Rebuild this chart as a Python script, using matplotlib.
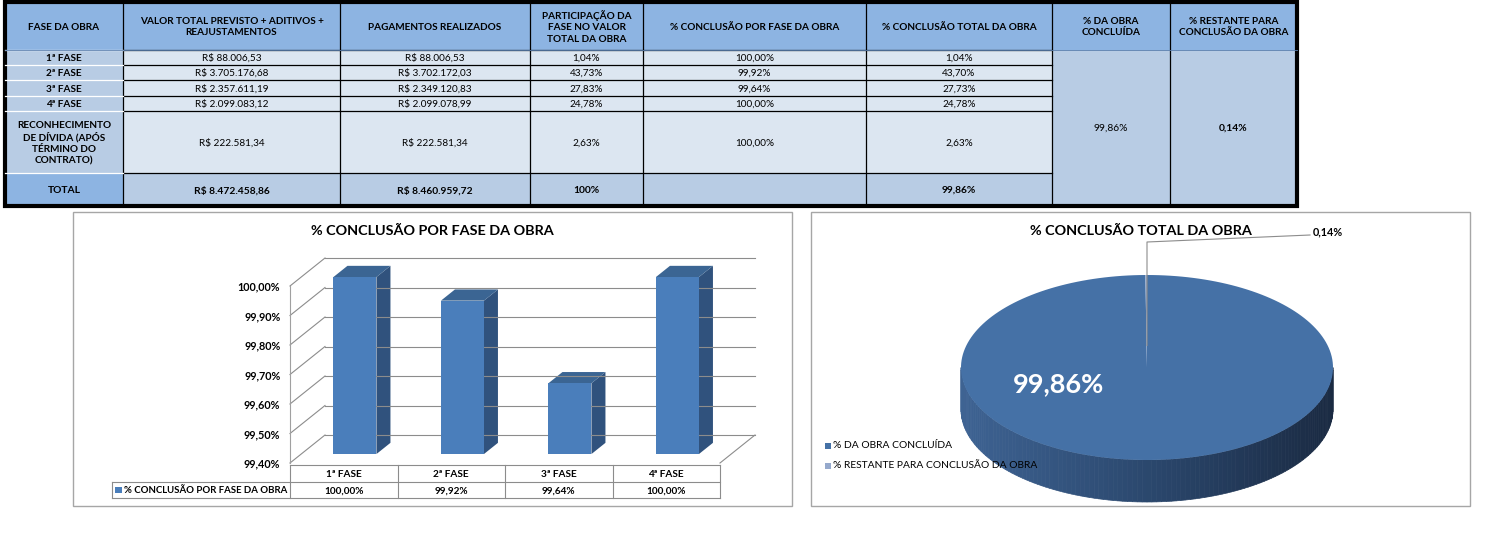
import numpy as np
import matplotlib
matplotlib.use("Agg")
import matplotlib.pyplot as plt
from matplotlib.patches import Rectangle, Polygon
import matplotlib.colors as mcolors

plt.rcParams['font.family'] = ['Lato', 'DejaVu Sans']

# ---- data ----
header = ['FASE DA OBRA', 'VALOR TOTAL PREVISTO + ADITIVOS +\nREAJUSTAMENTOS',
          'PAGAMENTOS REALIZADOS', 'PARTICIPAÇÃO DA\nFASE NO VALOR\nTOTAL DA OBRA',
          '% CONCLUSÃO POR FASE DA OBRA', '% CONCLUSÃO TOTAL DA OBRA',
          '% DA OBRA\nCONCLUÍDA', '% RESTANTE PARA\nCONCLUSÃO DA OBRA']
fases = ['1ª FASE', '2ª FASE', '3ª FASE', '4ª FASE',
         'RECONHECIMENTO\nDE DÍVIDA (APÓS\nTÉRMINO DO\nCONTRATO)']
valor_total = ['R$ 88.006,53', 'R$ 3.705.176,68', 'R$ 2.357.611,19',
               'R$ 2.099.083,12', 'R$ 222.581,34']
pagamentos = ['R$ 88.006,53', 'R$ 3.702.172,03', 'R$ 2.349.120,83',
              'R$ 2.099.078,99', 'R$ 222.581,34']
participacao = ['1,04%', '43,73%', '27,83%', '24,78%', '2,63%']
conclusao_fase = ['100,00%', '99,92%', '99,64%', '100,00%', '100,00%']
conclusao_total = ['1,04%', '43,70%', '27,73%', '24,78%', '2,63%']
total_row = ['TOTAL', 'R$ 8.472.458,86', 'R$ 8.460.959,72', '100%', '', '99,86%']
obra_concluida = '99,86%'
obra_restante = '0,14%'

bar_cats = ['1ª FASE', '2ª FASE', '3ª FASE', '4ª FASE']
bar_vals = [100.00, 99.92, 99.64, 100.00]
bar_series = '% CONCLUSÃO POR FASE DA OBRA'
y_ticks = [99.4, 99.5, 99.6, 99.7, 99.8, 99.9, 100.0]

pie_labels = ['% DA OBRA CONCLUÍDA', '% RESTANTE PARA CONCLUSÃO DA OBRA']
pie_vals = [99.86, 0.14]

W, H = 1493, 533
fig = plt.figure(figsize=(W / 100, H / 100), dpi=100)
bg = fig.add_axes([0, 0, 1, 1])
bg.set_xlim(0, W)
bg.set_ylim(H, 0)
bg.axis('off')

def txt(x, y, s, size=7.2, bold=False, **kw):
    bg.text(x, y, s, fontsize=size, fontweight='bold' if bold else 'normal',
            ha=kw.pop('ha', 'center'), va='center', linespacing=1.3, **kw)

# ---- top table ----
cols = [5, 123, 340, 530, 643, 866, 1052, 1170, 1297]
rows = [2, 50, 65, 80, 96, 111, 173, 206]
c_head = '#8DB4E2'
c_mid = '#B8CCE4'
c_light = '#DCE6F1'

for j in range(8):
    bg.add_patch(Rectangle((cols[j], rows[0]), cols[j + 1] - cols[j], rows[1] - rows[0],
                           fc=c_head, ec='none'))
    txt((cols[j] + cols[j + 1]) / 2, (rows[0] + rows[1]) / 2 + 1, header[j],
        size=7.2, bold=True)

body_cols = [valor_total, pagamentos, participacao, conclusao_fase, conclusao_total]
for i in range(5):
    y0, y1 = rows[i + 1], rows[i + 2]
    bg.add_patch(Rectangle((cols[0], y0), cols[1] - cols[0], y1 - y0, fc=c_mid, ec='none'))
    txt((cols[0] + cols[1]) / 2, (y0 + y1) / 2 + 1, fases[i], size=7.2, bold=True)
    for j, col in enumerate(body_cols):
        bg.add_patch(Rectangle((cols[j + 1], y0), cols[j + 2] - cols[j + 1], y1 - y0,
                               fc=c_light, ec='none'))
        txt((cols[j + 1] + cols[j + 2]) / 2, (y0 + y1) / 2 + 1, col[i])

# total row
y0, y1 = rows[6], rows[7]
for j in range(6):
    bg.add_patch(Rectangle((cols[j], y0), cols[j + 1] - cols[j], y1 - y0,
                           fc=c_head if j == 0 else c_mid, ec='none'))
    txt((cols[j] + cols[j + 1]) / 2, (y0 + y1) / 2 + 1, total_row[j], size=7.4, bold=True)

# merged cells
for j, s, b in [(6, obra_concluida, False), (7, obra_restante, True)]:
    bg.add_patch(Rectangle((cols[j], rows[1]), cols[j + 1] - cols[j], rows[7] - rows[1],
                           fc=c_mid, ec='none'))
    txt((cols[j] + cols[j + 1]) / 2, 128, s, size=7.4, bold=b)

# grid lines
for x in cols[1:-1]:
    bg.plot([x, x], [rows[0], rows[7]], color='black', lw=0.9)
for y in rows[1:-1]:
    bg.plot([cols[1], cols[6]], [y, y], color='black', lw=0.9)
    bg.plot([cols[0], cols[1]], [y, y], color='white', lw=0.9)
bg.plot([cols[0], cols[-1]], [rows[1], rows[1]], color='#5a7fae', lw=0.6)
bg.add_patch(Rectangle((cols[0], rows[0]), cols[-1] - cols[0], rows[-1] - rows[0],
                       fc='none', ec='black', lw=3))

# ---- bar chart panel ----
bg.add_patch(Rectangle((73, 212), 719, 294, fc='white', ec='#A6A6A6', lw=1))
txt(432, 231, '% CONCLUSÃO POR FASE DA OBRA', size=10.4, bold=True)

fx0, fx1 = 290, 720
fy_lo, fy_hi = 463, 286
ax = fig.add_axes([fx0 / W, (H - fy_lo) / H, (fx1 - fx0) / W, (fy_lo - fy_hi) / H])
ax.set_xlim(0, len(bar_cats))
ax.set_ylim(y_ticks[0], y_ticks[-1])
ax.patch.set_alpha(0)
for sp in ['top', 'right', 'bottom']:
    ax.spines[sp].set_visible(False)
ax.spines['left'].set_color('#A0A0A0')
ax.set_xticks([])
ax.set_yticks(y_ticks)
ax.set_yticklabels([f'{v:.2f}%'.replace('.', ',') for v in y_ticks],
                   fontsize=7.8, fontweight='bold')
ax.tick_params(axis='y', length=0, pad=7)

# depth projection in data units
px_x = (fx1 - fx0) / len(bar_cats)
px_y = (fy_lo - fy_hi) / (y_ticks[-1] - y_ticks[0])
DX = 35 / px_x
DY = 28 / px_y

def proj(x, v, d):
    return x + d * DX, v + d * DY

grid_c = '#8C8C8C'
n = len(bar_cats)
for v in y_ticks:
    a = proj(0, v, 0)
    b = proj(0, v, 1)
    c = proj(n, v, 1)
    ax.plot([a[0], b[0]], [a[1], b[1]], color=grid_c, lw=0.8, clip_on=False)
    ax.plot([b[0], c[0]], [b[1], c[1]], color=grid_c, lw=0.8, clip_on=False)
# floor right edge
a = proj(n, y_ticks[0], 0)
b = proj(n, y_ticks[0], 1)
ax.plot([a[0], b[0]], [a[1], b[1]], color=grid_c, lw=0.8, clip_on=False)

c_front = '#4A7EBB'
c_top = '#3B6593'
c_side = '#30527D'
d0, d1 = 0.32, 0.72
bw = 0.4
base = y_ticks[0]
for i, v in enumerate(bar_vals):
    xl = i + 0.5 - bw / 2
    xr = i + 0.5 + bw / 2
    # side face
    side = [proj(xr, base, d0), proj(xr, base, d1), proj(xr, v, d1), proj(xr, v, d0)]
    ax.add_patch(Polygon(side, closed=True, fc=c_side, ec='none', clip_on=False))
    # top face
    top = [proj(xl, v, d0), proj(xr, v, d0), proj(xr, v, d1), proj(xl, v, d1)]
    ax.add_patch(Polygon(top, closed=True, fc=c_top, ec='none', clip_on=False))
    # front face
    fx, fy = proj(i + 0.5, base, d0)
    ax.bar(fx, v - base, bottom=fy, width=bw, color=c_front, clip_on=False, zorder=3)

# data table under bars
tb_top, tb_mid, tb_bot = 465, 482, 498
tcol = '#8C8C8C'
for i, (cat, v) in enumerate(zip(bar_cats, bar_vals)):
    x0 = fx0 + i * px_x
    txt(x0 + px_x / 2, (tb_top + tb_mid) / 2 + 1, cat, size=7.2, bold=True)
    txt(x0 + px_x / 2, (tb_mid + tb_bot) / 2 + 1, f'{v:.2f}%'.replace('.', ','), size=7.2, bold=True)
    bg.plot([x0, x0], [tb_top, tb_bot], color=tcol, lw=0.8)
bg.plot([fx1, fx1], [tb_top, tb_bot], color=tcol, lw=0.8)
bg.plot([112, 112], [tb_mid, tb_bot], color=tcol, lw=0.8)
bg.plot([fx0, fx1], [tb_top, tb_top], color=tcol, lw=0.8)
bg.plot([112, fx1], [tb_mid, tb_mid], color=tcol, lw=0.8)
bg.plot([112, fx1], [tb_bot, tb_bot], color=tcol, lw=0.8)
bg.add_patch(Rectangle((115, 487), 7, 6, fc=c_front, ec='none'))
txt(124, 490.5, bar_series, size=6.9, bold=True, ha='left')

# ---- pie chart panel ----
bg.add_patch(Rectangle((811, 212), 659, 294, fc='white', ec='#A6A6A6', lw=1))
txt(1141, 231, '% CONCLUSÃO TOTAL DA OBRA', size=10.4, bold=True)

cx, cy, ra, rb, depth = 1147, 367.5, 186, 92.5, 42
pie_cols = ['#4571A6', '#95A9CC']

def ell(t):
    return cx + ra * np.cos(t), cy - rb * np.sin(t)

# side (front half) with left-to-right shading
side_l = np.array(mcolors.to_rgb('#3E6393'))
side_m = np.array(mcolors.to_rgb('#2B486E'))
side_r = np.array(mcolors.to_rgb('#1A2A42'))
ts = np.linspace(np.pi, 2 * np.pi, 121)
for k in range(len(ts) - 1):
    t_a, t_b = ts[k], ts[k + 1]
    xa, ya = ell(t_a)
    xb, yb = ell(t_b)
    f = ((xa + xb) / 2 - (cx - ra)) / (2 * ra)
    if f < 0.5:
        col = side_l + (side_m - side_l) * (f / 0.5)
    else:
        col = side_m + (side_r - side_m) * ((f - 0.5) / 0.5)
    bg.add_patch(Polygon([(xa, ya), (xb, yb), (xb, yb + depth), (xa, ya + depth)],
                         closed=True, fc=col, ec=col, lw=0.5))

# top face slices, clockwise from 12 o'clock
start = 90.0
total = sum(pie_vals)
for v, col in zip(pie_vals, pie_cols):
    sweep = 360.0 * v / total
    tt = np.radians(np.linspace(start, start - sweep, 200))
    xs, ys = ell(tt)
    pts = [(cx, cy)] + list(zip(xs, ys))
    bg.add_patch(Polygon(pts, closed=True, fc=col, ec='none'))
    start -= sweep

txt(1058, 384, '99,86%', size=19.5, bold=True, color='white')
# leader line for the small slice
bg.plot([cx, cx, 1310], [cy - 22, 242, 235], color='#8C8C8C', lw=0.8)
txt(1313, 232, '0,14%', size=7.8, bold=True, ha='left')

# legend
for k, (lab, col) in enumerate(zip(pie_labels, pie_cols)):
    yy = 446 + k * 20
    bg.add_patch(Rectangle((825, yy - 3), 6, 6, fc=col, ec='none'))
    txt(833, yy, lab, size=7.4, ha='left')

fig.savefig('out.png', dpi=100)
